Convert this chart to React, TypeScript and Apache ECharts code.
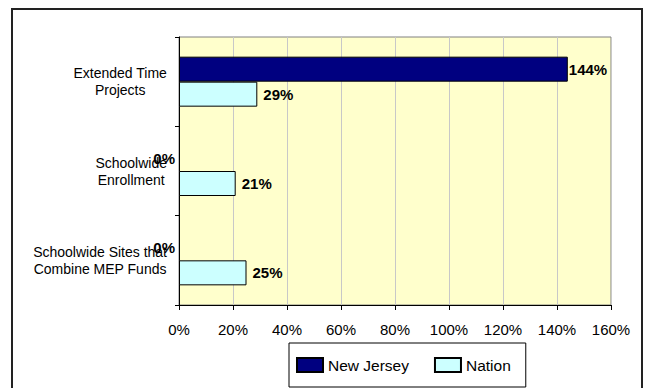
import React, { useEffect, useRef } from "react";
import * as echarts from "echarts";

const categories = [
  "Extended Time\nProjects",
  "Schoolwide\nEnrollment",
  "Schoolwide Sites that\nCombine MEP Funds",
];
const newJersey = [144, 0, 0];
const nation = [29, 21, 25];
const seriesNames = ["New Jersey", "Nation"];
const xTicks = { min: 0, max: 160, interval: 20 };

const FONT = "Arial, 'Liberation Sans', sans-serif";

export default function App() {
  const ref = useRef<HTMLDivElement>(null);
  useEffect(() => {
    document.body.style.margin = "0";
    const chart = echarts.init(ref.current!, null, { renderer: "svg" });
    const labelBase = {
      show: true,
      formatter: (p: any) => `${p.value}%`,
      color: "#000",
      fontWeight: "bold" as const,
      fontSize: 15,
      fontFamily: FONT,
    };
    chart.setOption({
      animation: false,
      backgroundColor: "#fff",
      graphic: [
        {
          type: "rect",
          shape: { x: 12, y: 9, width: 630, height: 400 },
          style: { fill: "none", stroke: "#222", lineWidth: 2 },
          z: 100,
          silent: true,
        },
      ],
      grid: {
        left: 179,
        top: 37,
        width: 432,
        height: 268,
        show: true,
        backgroundColor: "#FFFFCC",
        borderColor: "#808080",
        borderWidth: 1,
      },
      legend: {
        left: 289,
        top: 343,
        padding: [14, 15, 14, 7],
        itemWidth: 26,
        itemHeight: 14,
        itemGap: 25,
        itemTextGap: 6,
        borderColor: "#000",
        borderWidth: 1,
        backgroundColor: "#fff",
        icon: "rect",
        data: seriesNames,
        textStyle: { fontSize: 15.5, fontFamily: FONT, color: "#000" },
      },
      xAxis: {
        type: "value",
        min: xTicks.min,
        max: xTicks.max,
        interval: xTicks.interval,
        axisLine: { show: true, lineStyle: { color: "#000", width: 1 } },
        axisTick: { show: true, length: 5, lineStyle: { color: "#000" } },
        axisLabel: {
          formatter: (v: number) => `${v}%`,
          fontSize: 15,
          fontFamily: FONT,
          color: "#000",
          margin: 17,
        },
        splitLine: { show: true, lineStyle: { color: "#C8C8C8", width: 1 } },
      },
      yAxis: {
        type: "category",
        data: categories,
        inverse: true,
        axisLine: { show: true, lineStyle: { color: "#000", width: 1 } },
        axisTick: { show: true, length: 4, lineStyle: { color: "#000" } },
        axisLabel: {
          margin: 12,
          align: "right",
          fontSize: 14,
          fontFamily: FONT,
          color: "#000",
          lineHeight: 17,
          formatter: (v: string) =>
            v
              .split("\n")
              .map((l) => `{c|${l}}`)
              .join("\n"),
          rich: {
            c: {
              align: "center",
              fontSize: 14,
              fontFamily: FONT,
              color: "#000",
              lineHeight: 17,
            },
          },
        },
        splitLine: { show: false },
      },
      series: [
        {
          name: seriesNames[0],
          type: "bar",
          barWidth: 25,
          barGap: "0%",
          itemStyle: { color: "#000080", borderColor: "#000", borderWidth: 1 },
          label: { ...labelBase, position: "right", distance: 1 },
          data: newJersey.map((v) =>
            v === 0
              ? {
                  value: v,
                  itemStyle: { borderWidth: 0 },
                  label: { position: "left", distance: 4 },
                }
              : { value: v }
          ),
        },
        {
          name: seriesNames[1],
          type: "bar",
          barWidth: 25,
          barGap: "0%",
          itemStyle: { color: "#CCFFFF", borderColor: "#000", borderWidth: 1 },
          label: { ...labelBase, position: "right", distance: 6 },
          data: nation,
        },
      ],
    });
    return () => chart.dispose();
  }, []);
  return <div ref={ref} style={{ width: 655, height: 388 }} />;
}
